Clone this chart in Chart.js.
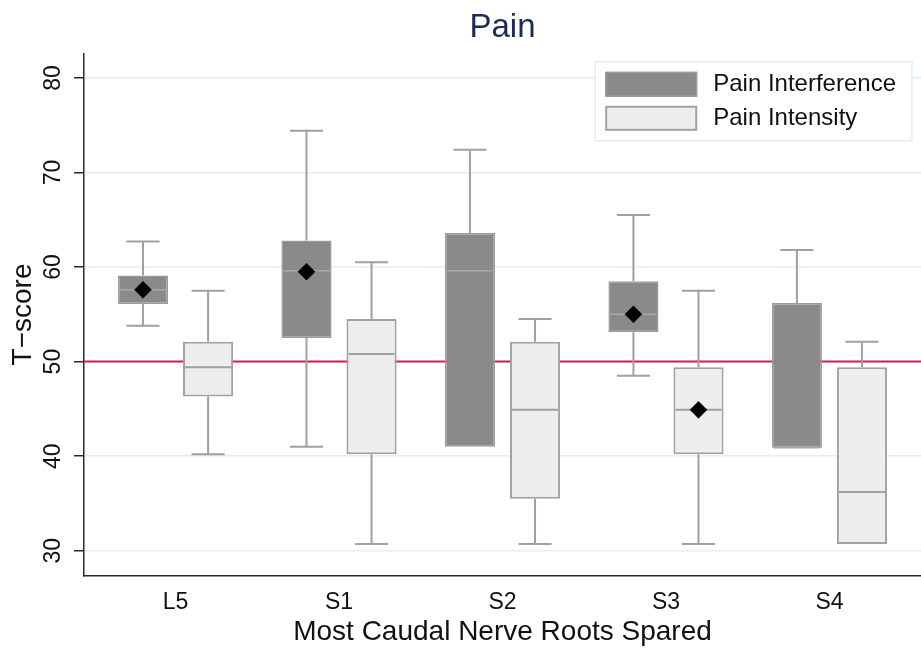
<!DOCTYPE html>
<html>
<head>
<meta charset="utf-8">
<title>Pain</title>
<script src="https://cdn.jsdelivr.net/npm/chart.js@4/dist/chart.umd.min.js"></script>
<style>
  html, body { margin: 0; padding: 0; background: #ffffff; }
  #wrap { width: 921px; height: 649px; }
</style>
</head>
<body>
<div id="wrap"><canvas id="chart" width="921" height="649"></canvas></div>
<script>
// Categories and series
const categories = ['L5', 'S1', 'S2', 'S3', 'S4'];
const seriesNames = ['Pain Interference', 'Pain Intensity'];

// Pain Interference: whisker ends, quartiles, median, mean
const interferenceLow    = [53.8, 41.0, 41.0, 48.5, 40.9];
const interferenceQ1     = [56.1, 52.5, 41.0, 53.1, 40.9];
const interferenceMedian = [57.6, 59.6, 59.6, 55.0, 40.9];
const interferenceQ3     = [59.1, 62.8, 63.6, 58.5, 56.2];
const interferenceHigh   = [62.7, 74.4, 72.4, 65.5, 61.8];
const interferenceMean   = [57.6, 59.5, null, 55.0, null];

// Pain Intensity: whisker ends, quartiles, median, mean
const intensityLow    = [40.2, 30.7, 30.7, 30.7, 30.7];
const intensityQ1     = [46.3, 40.2, 35.5, 40.2, 30.7];
const intensityMedian = [49.4, 50.8, 44.9, 44.9, 36.2];
const intensityQ3     = [52.1, 54.5, 52.1, 49.4, 49.4];
const intensityHigh   = [57.5, 60.5, 54.5, 57.5, 52.1];
const intensityMean   = [null, null, null, 44.9, null];

// Axis ticks and the population reference T-score
const yTicks = [30, 40, 50, 60, 70, 80];
const referenceLine = 50;

const FONT = "'Liberation Sans', Arial, Helvetica, sans-serif";
const TEXT = '#111111';

function boxData(q1, q3) {
  return categories.map((c, i) => ({ x: i, y: [q1[i], q3[i]] }));
}

const datasets = [
  {
    label: seriesNames[0],
    data: boxData(interferenceQ1, interferenceQ3),
    backgroundColor: '#8a8a8a',
    borderColor: '#9b9b9b',
    borderWidth: 1.5,
    borderSkipped: false,
    stats: { low: interferenceLow, q1: interferenceQ1, median: interferenceMedian,
             q3: interferenceQ3, high: interferenceHigh, mean: interferenceMean },
    medianColor: '#a8a8a8',
    medianWidth: 1.5
  },
  {
    label: seriesNames[1],
    data: boxData(intensityQ1, intensityQ3),
    backgroundColor: '#eeeef0',
    borderColor: '#a2a2a2',
    borderWidth: 2,
    borderSkipped: false,
    stats: { low: intensityLow, q1: intensityQ1, median: intensityMedian,
             q3: intensityQ3, high: intensityHigh, mean: intensityMean },
    medianColor: '#a0a0a0',
    medianWidth: 2
  }
];

// Reference line, whiskers, medians, mean markers and the inset legend
const boxWhiskers = {
  id: 'boxWhiskers',
  beforeDatasetsDraw(chart) {
    const { ctx, chartArea, scales: { y } } = chart;
    ctx.save();
    const yRef = y.getPixelForValue(referenceLine);
    ctx.strokeStyle = '#d31f48';
    ctx.lineWidth = 2;
    ctx.beginPath();
    ctx.moveTo(chartArea.left, yRef);
    ctx.lineTo(chartArea.right, yRef);
    ctx.stroke();

    ctx.strokeStyle = '#a0a0a0';
    ctx.lineWidth = 2;
    chart.data.datasets.forEach((ds, di) => {
      const meta = chart.getDatasetMeta(di);
      meta.data.forEach((bar, i) => {
        const { x, width } = bar.getProps(['x', 'width'], true);
        const cap = width * 0.33;
        const s = ds.stats;
        const pairs = [[s.q3[i], s.high[i]], [s.q1[i], s.low[i]]];
        pairs.forEach(([edge, end]) => {
          if (end === edge) return;
          const p0 = y.getPixelForValue(edge);
          const p1 = y.getPixelForValue(end);
          ctx.beginPath();
          ctx.moveTo(x, p0);
          ctx.lineTo(x, p1);
          ctx.moveTo(x - cap, p1);
          ctx.lineTo(x + cap, p1);
          ctx.stroke();
        });
      });
    });
    ctx.restore();
  },
  afterDatasetsDraw(chart) {
    const { ctx, scales: { y } } = chart;
    ctx.save();
    chart.data.datasets.forEach((ds, di) => {
      const meta = chart.getDatasetMeta(di);
      meta.data.forEach((bar, i) => {
        const { x, width } = bar.getProps(['x', 'width'], true);
        const half = width / 2 - ds.borderWidth;
        const pm = y.getPixelForValue(ds.stats.median[i]);
        ctx.strokeStyle = ds.medianColor;
        ctx.lineWidth = ds.medianWidth;
        ctx.beginPath();
        ctx.moveTo(x - half, pm);
        ctx.lineTo(x + half, pm);
        ctx.stroke();
      });
    });
    chart.data.datasets.forEach((ds, di) => {
      const meta = chart.getDatasetMeta(di);
      meta.data.forEach((bar, i) => {
        const m = ds.stats.mean[i];
        if (m === null) return;
        const { x } = bar.getProps(['x'], true);
        const py = y.getPixelForValue(m);
        ctx.fillStyle = '#000000';
        ctx.strokeStyle = '#000000';
        ctx.lineWidth = 0.5;
        Chart.helpers.drawPoint(ctx, { pointStyle: 'rectRot', radius: 8.5, rotation: 0, borderWidth: 0.5 }, x, py);
      });
    });
    ctx.restore();
  },
  afterDraw(chart) {
    const { ctx, chartArea } = chart;
    ctx.save();
    ctx.font = '24px ' + FONT;
    const texts = chart.data.datasets.map(d => d.label);
    const textW = Math.max(...texts.map(t => ctx.measureText(t).width));
    const swW = 92, swH = 25, rowGap = 9, padL = 10, padR = 16, padV = 10, gap = 16;
    const boxW = padL + swW + gap + textW + padR;
    const boxH = padV * 2 + swH * texts.length + rowGap * (texts.length - 1);
    const right = chartArea.right - 9;
    const left = right - boxW;
    const top = chartArea.top + 8.5;
    ctx.fillStyle = '#ffffff';
    ctx.fillRect(left, top, boxW, boxH);
    ctx.strokeStyle = '#e6eef2';
    ctx.lineWidth = 1.5;
    ctx.strokeRect(left, top, boxW, boxH);
    chart.data.datasets.forEach((ds, i) => {
      const sy = top + padV + i * (swH + rowGap);
      ctx.fillStyle = ds.backgroundColor;
      ctx.fillRect(left + padL, sy, swW, swH);
      ctx.strokeStyle = ds.borderColor;
      ctx.lineWidth = ds.borderWidth;
      ctx.strokeRect(left + padL + ds.borderWidth / 2, sy + ds.borderWidth / 2,
                     swW - ds.borderWidth, swH - ds.borderWidth);
      ctx.fillStyle = TEXT;
      ctx.textAlign = 'left';
      ctx.textBaseline = 'middle';
      ctx.fillText(ds.label, left + padL + swW + gap, sy + swH / 2);
    });
    ctx.restore();
  }
};

new Chart(document.getElementById('chart'), {
  type: 'bar',
  data: { datasets },
  options: {
    responsive: false,
    animation: false,
    devicePixelRatio: 1,
    layout: { padding: 0 },
    datasets: {
      bar: { categoryPercentage: 0.796, barPercentage: 0.77, grouped: true }
    },
    plugins: {
      legend: { display: false },
      tooltip: { enabled: false },
      title: {
        display: true,
        fullSize: false,
        text: 'Pain',
        color: '#1c2a58',
        font: { family: FONT, size: 33, weight: 'normal' },
        padding: { top: 8, bottom: 5.7 }
      }
    },
    scales: {
      x: {
        type: 'linear',
        min: -0.56,
        max: 4.56,
        offset: false,
        afterBuildTicks: s => { s.ticks = categories.map((c, i) => ({ value: i })); },
        afterFit: s => { s.height = 73.3; },
        ticks: {
          callback: v => categories[v],
          font: { family: FONT, size: 23 },
          color: TEXT,
          padding: 5.5,
          maxRotation: 0,
          autoSkip: false
        },
        grid: { display: false, offset: false },
        border: { display: true, color: '#2a2a2a', width: 1.5 },
        title: {
          display: true,
          text: 'Most Caudal Nerve Roots Spared',
          color: TEXT,
          font: { family: FONT, size: 28 },
          padding: { top: 0, bottom: 0 }
        }
      },
      y: {
        type: 'linear',
        min: 27.36,
        max: 82.6,
        afterBuildTicks: s => { s.ticks = yTicks.map(v => ({ value: v })); },
        afterFit: s => { s.width = 84; },
        ticks: {
          font: { family: FONT, size: 23 },
          color: TEXT,
          minRotation: 90,
          maxRotation: 90,
          crossAlign: 'center',
          padding: 8
        },
        grid: {
          color: '#e4edf1',
          lineWidth: 1.5,
          tickColor: '#2a2a2a',
          tickLength: 10,
          tickWidth: 1.5
        },
        border: { display: true, color: '#2a2a2a', width: 1.5 },
        title: {
          display: true,
          text: 'T\u2212score',
          color: TEXT,
          font: { family: FONT, size: 28 },
          padding: { top: 6, bottom: 0 }
        }
      }
    }
  },
  plugins: [boxWhiskers]
});
</script>
</body>
</html>
